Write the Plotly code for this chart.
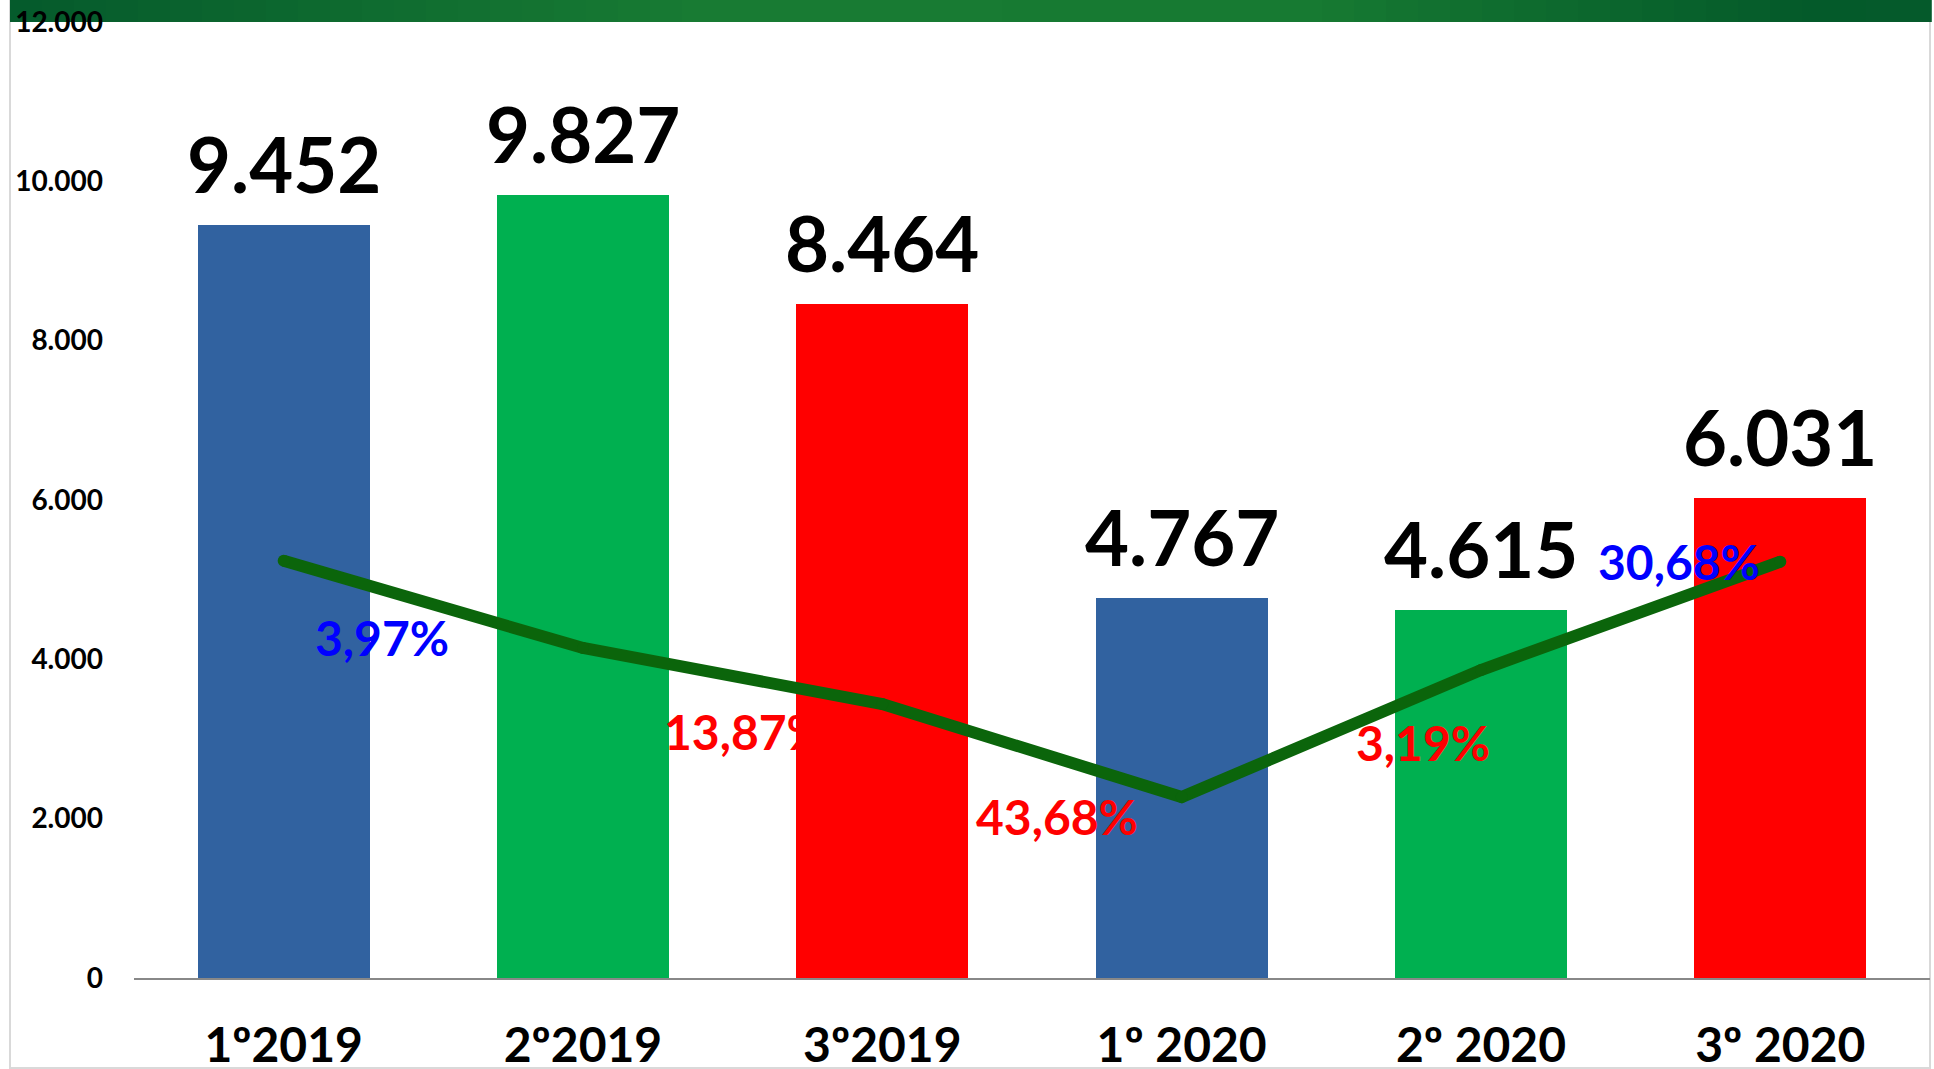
import plotly.graph_objects as go

# ---------------- data ----------------
categories = ["1º2019", "2º2019", "3º2019", "1º 2020", "2º 2020", "3º 2020"]
bar_values = [9452, 9827, 8464, 4767, 4615, 6031]
trend_values = [5238, 4142, 3439, 2272, 3866, 5226]
y_tick_values = [0, 2000, 4000, 6000, 8000, 10000, 12000]

# ---------------- styles ----------------
BLUE = "#3162A0"
GREEN = "#00B050"
RED = "#FF0000"
bar_colors = [BLUE, GREEN, RED, BLUE, GREEN, RED]
LINE_GREEN = "#0B650B"
FONT = "Lato"

W, H = 1934, 1069
ML, MR, MT, MB = 134, 4, 22, 91
PW, PH = W - ML - MR, H - MT - MB

def px_x(x):
    return (x - ML) / PW

def px_y(y):
    return (H - MB - y) / PH

# placement of the change labels (between consecutive periods)
pct_pos_x = [0.33, 1.54, 2.585, 3.807, 4.662]
pct_pos_y = [4268, 3100, 2021, 2950, 5222]

idx = list(range(len(categories)))

fig = go.Figure()
fig.add_trace(go.Bar(
    x=idx, y=bar_values, width=0.575,
    marker=dict(color=bar_colors, line=dict(width=0)),
    showlegend=False, hoverinfo="x+y",
))
fig.add_trace(go.Scatter(
    x=idx, y=trend_values, mode="lines+markers",
    line=dict(color=LINE_GREEN, width=12),
    marker=dict(color=LINE_GREEN, size=12, line=dict(width=0)),
    showlegend=False,
))

annotations = []
# big value labels above bars
for i, v in zip(idx, bar_values):
    annotations.append(dict(
        x=i, y=v, xref="x", yref="y", yanchor="bottom", yshift=14,
        text=f"{v:,}".replace(",", "."), showarrow=False,
        font=dict(family=FONT, size=76, color="black", weight="bold"),
    ))
# percentage change labels
for k in range(1, len(bar_values)):
    ch = (bar_values[k] - bar_values[k - 1]) / bar_values[k - 1]
    txt = f"{abs(ch) * 100:.2f}".replace(".", ",") + "%"
    col = "#0000FF" if ch > 0 else "#FF0000"
    annotations.append(dict(
        x=pct_pos_x[k - 1], y=pct_pos_y[k - 1], xref="x", yref="y",
        text=txt, showarrow=False,
        font=dict(family=FONT, size=48, color=col, weight="bold"),
    ))

shapes = []
# outer light-grey frame
shapes.append(dict(type="rect", xref="paper", yref="paper",
                   x0=px_x(10), x1=px_x(1930), y0=px_y(1068), y1=px_y(-5),
                   line=dict(color="#D9D9D9", width=2), fillcolor="rgba(0,0,0,0)",
                   layer="below"))
# top green gradient banner
stops = [(10, (5, 90, 44)), (700, (24, 123, 51)), (1300, (23, 122, 50)),
         (1800, (4, 90, 42)), (1930, (5, 90, 43))]
N = 60
for n in range(N):
    xa = 10 + (1930 - 10) * n / N
    xb = 10 + (1930 - 10) * (n + 1) / N
    xm = (xa + xb) / 2
    for (s0, c0), (s1, c1) in zip(stops[:-1], stops[1:]):
        if s0 <= xm <= s1:
            t = (xm - s0) / (s1 - s0)
            c = tuple(round(a + (b - a) * t) for a, b in zip(c0, c1))
            break
    shapes.append(dict(type="rect", xref="paper", yref="paper",
                       x0=px_x(xa), x1=px_x(xb) + 0.001, y0=px_y(22), y1=px_y(0),
                       line=dict(width=0), fillcolor=f"rgb{c}", layer="below"))

fig.update_layout(
    width=W, height=H,
    margin=dict(l=ML, r=MR, t=MT, b=MB, autoexpand=False),
    paper_bgcolor="white", plot_bgcolor="white",
    separators=",.",
    annotations=annotations,
    shapes=shapes,
    showlegend=False,
    bargap=0,
)
fig.update_xaxes(
    range=[-0.5, len(categories) - 0.5],
    tickmode="array", tickvals=idx, ticktext=categories,
    tickfont=dict(family=FONT, size=48, color="black", weight="bold"),
    showline=True, linecolor="#888888", linewidth=2,
    showgrid=False, zeroline=False, ticks="", ticklabelstandoff=24,
    automargin=False,
)
fig.update_yaxes(
    range=[0, 12000], tickmode="array", tickvals=y_tick_values,
    tickformat=",d",
    tickfont=dict(family=FONT, size=28, color="black", weight="bold"),
    showline=False, showgrid=False, zeroline=False, ticks="",
    ticklabelstandoff=30, automargin=False,
)

fig.write_html(
    "out.html",
    config={"displayModeBar": False},
    post_script="document.body.style.margin='0px';document.body.style.overflow='hidden';",
)
